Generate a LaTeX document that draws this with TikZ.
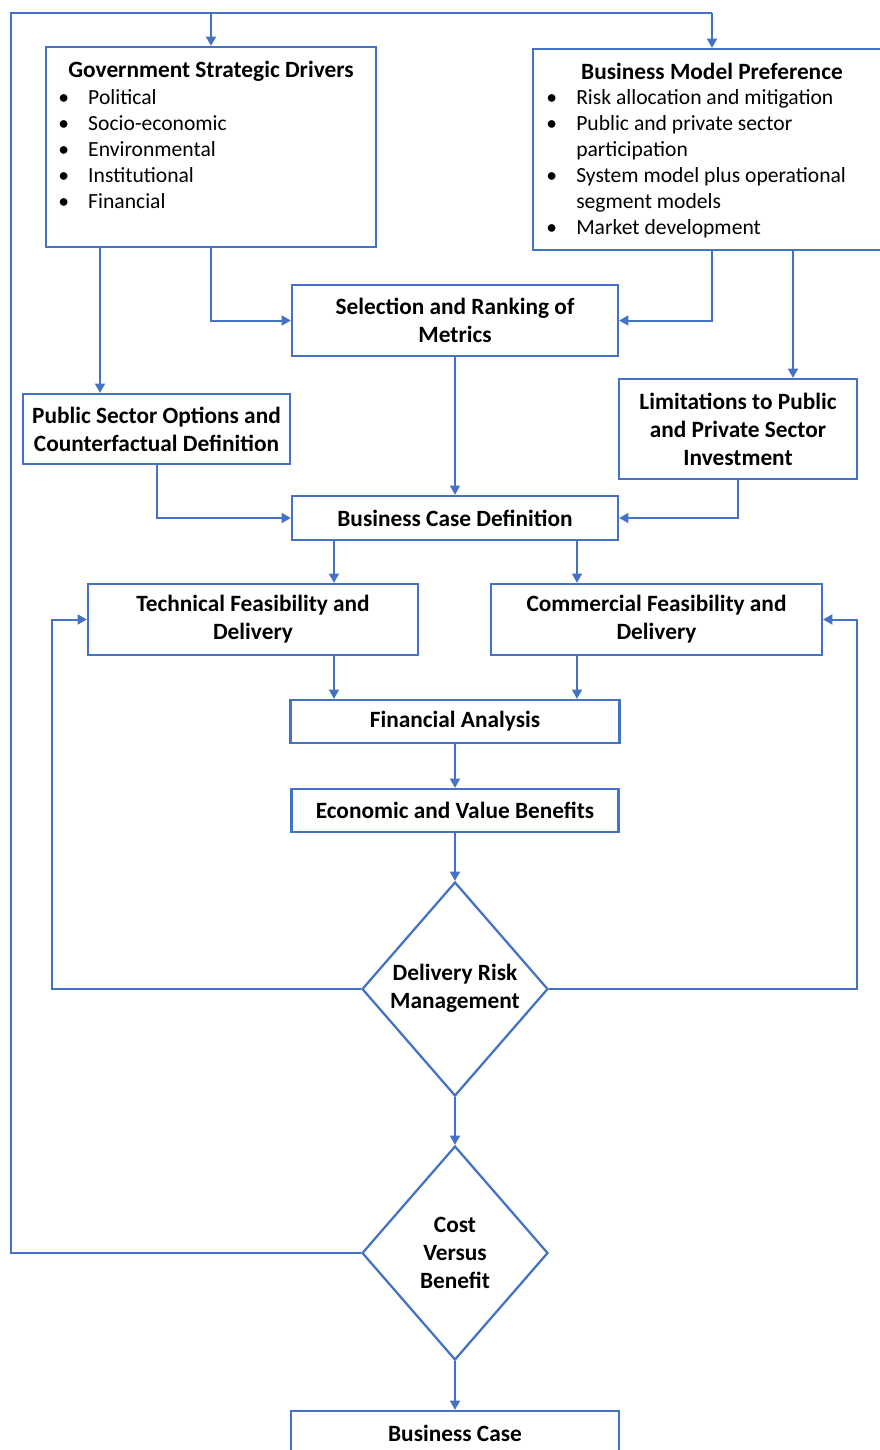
\documentclass[tikz,border=0pt]{standalone}
\usepackage{fontspec}
\setmainfont{Carlito}
\usetikzlibrary{arrows.meta,shapes.geometric,calc}
\definecolor{accent}{HTML}{4472C4}
\newcommand{\bul}{\makebox[22.5pt][l]{\textbullet}}
\newcommand{\cont}{\makebox[22.5pt][l]{}}

\begin{document}
\begin{tikzpicture}[x=0.75pt,y=-0.75pt,
  flow/.style={draw=accent,line width=1.5pt},
  arr/.style={flow,-{Triangle[length=7pt,width=7.5pt]}},
  box/.style={draw=accent,line width=1.7pt,fill=white,inner sep=0pt,align=center,
    font=\fontsize{17.5pt}{21pt}\selectfont\bfseries},
  decision/.style={draw=accent,line width=1.7pt,fill=white,diamond,inner sep=0pt,
    minimum width=186*0.75pt,minimum height=214*0.75pt},
  label/.style={inner sep=0pt,align=center,font=\fontsize{17.5pt}{21pt}\selectfont\bfseries},
  items/.style={inner sep=0pt,align=left,font=\fontsize{16.2pt}{19.5pt}\selectfont},
  title/.style={inner sep=0pt,font=\fontsize{17.5pt}{21pt}\selectfont\bfseries}]
\clip (0,0) rectangle (880,1450);
\fill[white] (0,0) rectangle (880,1450);

% upper boxes
\node[box,minimum width=330*0.75pt,minimum height=200*0.75pt] (gsd) at (211,147) {};
\node[title] (gsdT) at (211,71) {Government Strategic Drivers};
\node[items,anchor=west] (gsdL) at (58,149) {\bul Political\\ \bul Socio-economic\\ \bul Environmental\\ \bul Institutional\\ \bul Financial};

\node[box,minimum width=358*0.75pt,minimum height=201*0.75pt] (bmp) at (712,149.5) {};
\node[title] (bmpT) at (712,71) {Business Model Preference};
\node[items,anchor=west] (bmpL) at (546,163.5) {\bul Risk allocation and mitigation\\ \bul Public and private sector\\ \cont participation\\ \bul System model plus operational\\ \cont segment models\\ \bul Market development};

% process boxes
\node[box,minimum width=326*0.75pt,minimum height=71*0.75pt] (sel) at (455,320.5) {Selection and Ranking of\\Metrics};
\node[box,minimum width=267*0.75pt,minimum height=70*0.75pt] (pso) at (156.5,429) {Public Sector Options and\\Counterfactual Definition};
\node[box,minimum width=238*0.75pt,minimum height=100*0.75pt] (lim) at (738,429) {Limitations to Public\\and Private Sector\\Investment};
\node[box,minimum width=326*0.75pt,minimum height=44*0.75pt] (bcd) at (455,518) {Business Case Definition};
\node[box,minimum width=330*0.75pt,minimum height=71*0.75pt] (tfd) at (253,619.5) {Technical Feasibility and\\Delivery};
\node[box,minimum width=331*0.75pt,minimum height=71*0.75pt] (cfd) at (656.5,619.5) {Commercial Feasibility and\\Delivery};
\node[box,minimum width=329*0.75pt,minimum height=43*0.75pt] (fa) at (455,721.5) {Financial Analysis};
\node[box,minimum width=327*0.75pt,minimum height=43*0.75pt] (evb) at (455,810.5) {Economic and Value Benefits};

% decisions
\node[decision] (drm) at (455,989) {};
\node[label] (drmT) at (455,988) {Delivery Risk\\Management};
\node[decision] (cvb) at (455,1253) {};
\node[label] (cvbT) at (455,1253) {Cost\\Versus\\Benefit};

\node[box,minimum width=328*0.75pt,minimum height=44*0.75pt] (bc) at (455,1433) {Business Case};

% routing points
\coordinate (loopL) at (11,13);
\coordinate (loopR) at (712,13);
\coordinate (fbL) at (52,619.5);
\coordinate (fbR) at (857,619.5);
\coordinate (tapA) at (100,0);
\coordinate (tapB) at (793,0);
\coordinate (tapC) at (334,0);
\coordinate (tapD) at (577,0);

% connectors
\draw[flow] (cvb.west) -| (loopL) -- (loopR);
\draw[arr] (loopR) -- (bmp.north);
\draw[arr] (loopL -| gsd.north) -- (gsd.north);

\draw[arr] (tapA |- gsd.south) -- (tapA |- pso.north);
\draw[arr] (gsd.south) |- (sel.west);
\draw[arr] (bmp.south) |- (sel.east);
\draw[arr] (tapB |- bmp.south) -- (tapB |- lim.north);

\draw[arr] (sel.south) -- (bcd.north);
\draw[arr] (pso.south) |- (bcd.west);
\draw[arr] (lim.south) |- (bcd.east);

\draw[arr] (tapC |- bcd.south) -- (tapC |- tfd.north);
\draw[arr] (tapD |- bcd.south) -- (tapD |- cfd.north);
\draw[arr] (tapC |- tfd.south) -- (tapC |- fa.north);
\draw[arr] (tapD |- cfd.south) -- (tapD |- fa.north);

\draw[arr] (fa.south) -- (evb.north);
\draw[arr] (evb.south) -- (drm.north);
\draw[arr] (drm.west) -| (fbL) -- (tfd.west);
\draw[arr] (drm.east) -| (fbR) -- (cfd.east);
\draw[arr] (drm.south) -- (cvb.north);
\draw[arr] (cvb.south) -- (bc.north);
\end{tikzpicture}
\end{document}
